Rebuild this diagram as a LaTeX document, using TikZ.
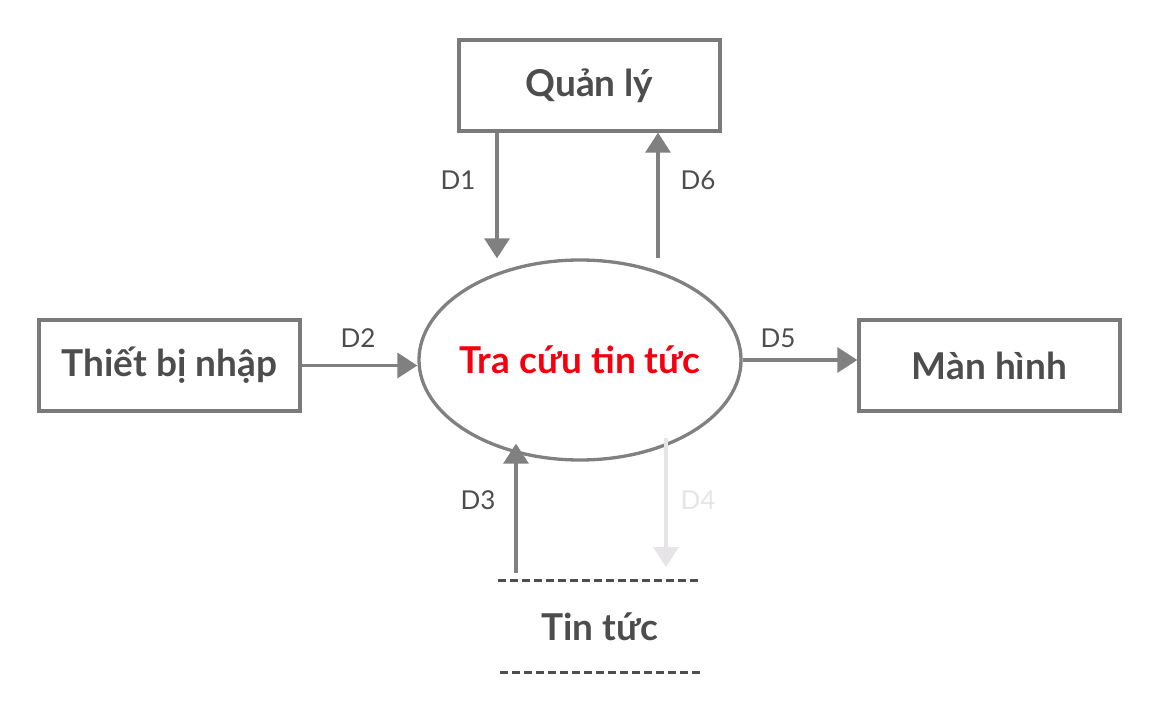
\documentclass[tikz,border=0pt]{standalone}
\usepackage{fontspec}
\setmainfont{Lato}
\usetikzlibrary{shapes.geometric,arrows.meta}
\definecolor{linegray}{HTML}{808080}
\definecolor{boxgray}{HTML}{7A7A7A}
\definecolor{txtgray}{HTML}{4D4D4D}
\definecolor{fadegray}{HTML}{E6E4E6}
\definecolor{redtxt}{HTML}{F5000F}
\tikzset{
  bigfont/.style={font=\bfseries\fontsize{37}{44}\selectfont},
  box/.style={draw=boxgray,line width=3.3pt,minimum width=261pt,minimum height=91pt,inner sep=0pt,
    bigfont,text=txtgray},
  arr/.style={draw=linegray,line width=3.3pt,-{Triangle[length=20pt,width=25pt]}},
  lbl/.style={font=\fontsize{26}{30}\selectfont,text=txtgray,inner sep=0pt},
  dline/.style={draw=txtgray,line width=3pt,dash pattern=on 8pt off 4pt}
}
\begin{document}
\begin{tikzpicture}[x=1pt,y=-1pt]
\path[use as bounding box,fill=white] (0,0) rectangle (1160,712);
\node[box] (q) at (589.5,85.5) {Quản lý};
\node[box] (t) at (169.5,365.5) {Thiết bị nhập};
\node[box] (m) at (989.5,365.5) {Màn hình};
\node[ellipse,draw=linegray,line width=3.3pt,minimum width=322pt,minimum height=200pt,inner sep=0pt] (e) at (580,360) {};
\node[bigfont,text=redtxt] (et) at (e.center) {Tra cứu tin tức};
\node[bigfont,text=txtgray] (s) at (600,627) {Tin tức};
\coordinate (s1a) at (498,580);
\coordinate (s1b) at (700,580);
\coordinate (s2a) at (500,672);
\coordinate (s2b) at (702,672);
\coordinate (d3a) at (516,573);
\coordinate (d4b) at (666,567);
\draw[dline] (s1a) -- (s1b);
\draw[dline] (s2a) -- (s2b);
\draw[arr] ([xshift=-92.5pt]q.south) -- ([xshift=-83pt]e.north);
\draw[arr] ([xshift=78pt]e.north) -- ([xshift=68.5pt]q.south);
\draw[arr] (t.east) -- (t.east -| e.west);
\draw[arr] (e.east) -- (e.east -| m.west);
\draw[arr] (d3a) -- ([xshift=-64pt,yshift=18pt]e.south);
\draw[arr,draw=fadegray] ([xshift=86pt,yshift=24pt]e.south) -- (d4b);
\node[lbl] (l1) at (458,180) {D1};
\node[lbl] (l6) at (698,180) {D6};
\node[lbl] (l2) at (358,338) {D2};
\node[lbl] (l5) at (778,338) {D5};
\node[lbl] (l3) at (478,500) {D3};
\node[lbl,text=fadegray] (l4) at (698,500) {D4};
\end{tikzpicture}
\end{document}
